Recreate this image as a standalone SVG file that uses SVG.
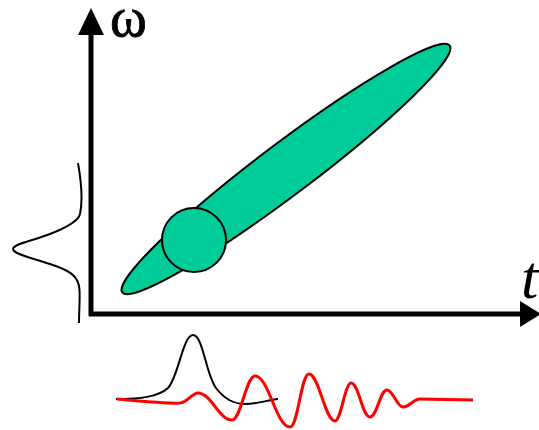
<svg xmlns="http://www.w3.org/2000/svg" width="539" height="430" viewBox="0 0 539 430">
<style>
.shape{fill:#00CC99;stroke:#000;stroke-width:2}
.axis{stroke:#000;stroke-width:5;fill:none}
.head{fill:#000}
.lbl{font-family:"Liberation Serif","Times New Roman",serif;fill:#000}
.bk{fill:none;stroke:#000;stroke-width:2}
.rd{fill:none;stroke:#FF0000;stroke-width:3}
</style>
<rect width="539" height="430" fill="#fff"/>
<g id="axes">
<line class="axis" x1="91" y1="316" x2="91" y2="32"/>
<polygon class="head" points="91,8 78,35 104,35"/>
<line class="axis" x1="89" y1="314" x2="522" y2="314"/>
<polygon class="head" points="541,314 520,301 520,327"/>
</g>
<g id="label-omega"><text class="lbl" x="110" y="36" font-size="56" stroke="#000" stroke-width="0.8">ω</text></g>
<g id="label-t"><text class="lbl" x="521" y="298" font-size="62" font-style="italic">t</text></g>
<g id="ellipse"><ellipse class="shape" cx="286" cy="169" rx="205" ry="26" transform="rotate(-37 286 169)"/></g>
<g id="circle"><circle class="shape" cx="194" cy="240" r="32"/></g>
<g id="freq-profile"><path class="bk" d="M78,163 C81,180 83,200 80,214 C78.5,221 68,227 50,234 C32,241 13,244 13,249 C13,254 32,258 50,264 C68,270 79,275 79.5,290 C80,300 79,312 79,323"/></g>
<g id="time-profile"><path class="bk" d="M116,399 C140,399 158,397 168,388 C178,378 183,335 193,335 C203,335 206,375 216,388 C225,400 235,404 245,404 C258,404 268,400 278,399"/></g>
<g id="chirp"><path class="rd" d="M117,399 C140,401 165,404 180,403 C188,402 192,393 198,393 C211,393 219,420 232,420 C241,420 246,376 255,376 C269,376 276,427 290,427 C298,427 301,374 309,374 C319,374 325,421 335,421 C341,421 345,383 351,383 C359,383 362,417 370,417 C377,417 380,390 387,390 C393,390 397,407 403,407 C410,407 413,399 420,399 L473,400"/></g>
</svg>
